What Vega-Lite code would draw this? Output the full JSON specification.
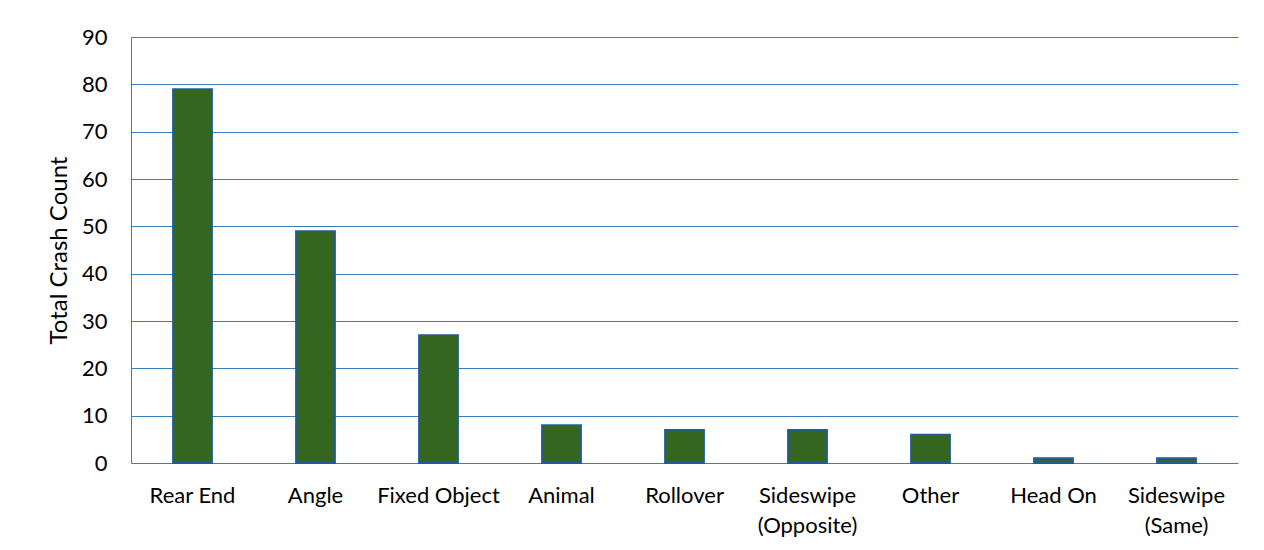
{
  "$schema": "https://vega.github.io/schema/vega-lite/v6.json",
  "autosize": "none",
  "padding": {"left": 131, "top": 37, "right": 26, "bottom": 87},
  "width": 1107,
  "height": 426,
  "background": "white",
  "data": {
    "values": [
      {"type": "Rear End", "count": 79},
      {"type": "Angle", "count": 49},
      {"type": "Fixed Object", "count": 27},
      {"type": "Animal", "count": 8},
      {"type": "Rollover", "count": 7},
      {"type": "Sideswipe (Opposite)", "count": 7},
      {"type": "Other", "count": 6},
      {"type": "Head On", "count": 1},
      {"type": "Sideswipe (Same)", "count": 1}
    ]
  },
  "mark": {"type": "bar", "size": 39, "fill": "#35661F", "stroke": "#1F5B9E", "strokeWidth": 1.8},
  "encoding": {
    "x": {
      "field": "type",
      "type": "nominal",
      "sort": null,
      "scale": {"paddingInner": 0, "paddingOuter": 0},
      "axis": {
        "title": null,
        "labelAngle": 0,
        "domain": false,
        "ticks": false,
        "labelPadding": 22,
        "labelFont": "Lato",
        "labelFontSize": 22,
        "labelColor": "#000000",
        "labelLineHeight": 30,
        "labelExpr": "indexof(datum.label,'Sideswipe')==0 ? split(datum.label,' ') : datum.label"
      }
    },
    "y": {
      "field": "count",
      "type": "quantitative",
      "scale": {"domain": [0, 90]},
      "axis": {
        "title": "Total Crash Count",
        "titleFont": "Lato",
        "titleFontSize": 24,
        "titleFontWeight": "normal",
        "titleColor": "#000000",
        "titlePadding": 10,
        "values": [0, 10, 20, 30, 40, 50, 60, 70, 80, 90],
        "labelFont": "Lato",
        "labelFontSize": 22,
        "labelColor": "#000000",
        "labelPadding": 24,
        "ticks": false,
        "domain": true,
        "domainColor": "#3A7DC0",
        "domainWidth": 1,
        "grid": true,
        "gridColor": "#3A7DC0",
        "gridWidth": 1,
        "gridOpacity": 1
      }
    }
  },
  "config": {"view": {"stroke": null}}
}
